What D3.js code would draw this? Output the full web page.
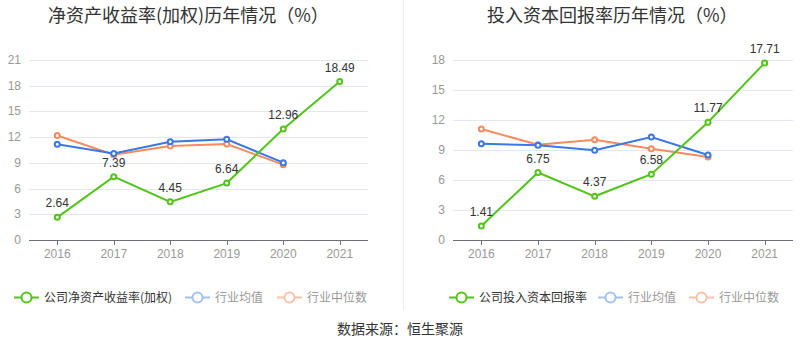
<!DOCTYPE html>
<html><head><meta charset="utf-8">
<script src="https://cdn.jsdelivr.net/npm/d3@7"></script>
<style>body{margin:0;background:#fff;font-family:"Noto Sans CJK SC","Noto Sans",sans-serif;}</style>
</head><body><svg id="c" width="800" height="358"></svg>
<script>
const years = ["2016","2017","2018","2019","2020","2021"];
const roeCompany = [2.64, 7.39, 4.45, 6.64, 12.96, 18.49];
const roeIndustryMean = [11.17, 10.1, 11.47, 11.75, 9.02];
const roeIndustryMedian = [12.2, 9.96, 10.97, 11.2, 8.79];
const roicCompany = [1.41, 6.75, 4.37, 6.58, 11.77, 17.71];
const roicIndustryMean = [9.63, 9.47, 8.97, 10.3, 8.5];
const roicIndustryMedian = [11.1, 9.53, 10.03, 9.13, 8.3];
const roeTicks = [0,3,6,9,12,15,18,21];
const roicTicks = [0,3,6,9,12,15,18];

const svg = d3.select("#c");
const green="#52c41a", blue="#3a78e6", orange="#f98a5e";
const fontCJK='"Noto Sans CJK SC","Noto Sans",sans-serif';

svg.append("line").attr("x1",403.5).attr("x2",403.5).attr("y1",0).attr("y2",310).attr("stroke","#eeeeee");

function panel(opt){
  const g = svg.append("g");
  const x = d3.scaleBand().domain(years).range([opt.x0,opt.x1]);
  const y = d3.scaleLinear().domain([0,opt.max]).range([240,60]);
  g.append("text").attr("x",opt.titleX).attr("y",22).attr("font-size",18).attr("fill","#333").attr("font-family",fontCJK).text(opt.title);
  // grid
  g.selectAll("line.grid").data(opt.ticks.slice(1)).join("line")
    .attr("x1",opt.x0).attr("x2",opt.x1).attr("y1",d=>Math.round(y(d))+0.5).attr("y2",d=>Math.round(y(d))+0.5)
    .attr("stroke","#e3e7f0");
  g.selectAll("text.yt").data(opt.ticks).join("text")
    .attr("x",opt.x0-8).attr("y",d=>y(d)+4).attr("text-anchor","end").attr("font-size",12).attr("fill","#999")
    .attr("font-family","Liberation Sans, Arial, sans-serif").text(d=>d);
  // x axis
  g.append("line").attr("x1",opt.x0).attr("x2",opt.x1).attr("y1",240.5).attr("y2",240.5).attr("stroke","#6e7079");
  g.selectAll("line.xt").data(years).join("line")
    .attr("x1",d=>Math.round(x(d)+x.bandwidth()/2)+0.5).attr("x2",d=>Math.round(x(d)+x.bandwidth()/2)+0.5)
    .attr("y1",240).attr("y2",245).attr("stroke","#6e7079");
  g.selectAll("text.xl").data(years).join("text")
    .attr("x",d=>x(d)+x.bandwidth()/2).attr("y",258).attr("text-anchor","middle").attr("font-size",12).attr("fill","#999")
    .attr("font-family","Liberation Sans, Arial, sans-serif").text(d=>d);
  const cx = i=>x(years[i])+x.bandwidth()/2;
  const line = d3.line().x((d,i)=>cx(i)).y(d=>y(d));
  function series(data,color,labels){
    g.append("path").attr("d",line(data)).attr("fill","none").attr("stroke",color).attr("stroke-width",2);
    g.selectAll(null).data(data).join("circle").attr("cx",(d,i)=>cx(i)).attr("cy",d=>y(d)).attr("r",2.5)
      .attr("fill","#fff").attr("stroke",color).attr("stroke-width",2);
    if(labels){
      g.selectAll(null).data(data).join("text").attr("x",(d,i)=>cx(i)).attr("y",d=>y(d)-10)
        .attr("text-anchor","middle").attr("font-size",12).attr("fill","#333")
        .attr("font-family","Liberation Sans, Arial, sans-serif").text(d=>d.toFixed(2));
    }
  }
  series(opt.median,orange,false);
  series(opt.mean,blue,false);
  series(opt.company,green,true);
  // legend
  const items = [
    {c:green,t:opt.legend,tc:"#333",x:opt.lx[0]},
    {c:"#a4c1f7",t:"行业均值",tc:"#999",x:opt.lx[1]},
    {c:"#fbc0a9",t:"行业中位数",tc:"#999",x:opt.lx[2]}
  ];
  items.forEach(it=>{
    g.append("line").attr("x1",it.x).attr("x2",it.x+25).attr("y1",297.5).attr("y2",297.5).attr("stroke",it.c).attr("stroke-width",2);
    g.append("circle").attr("cx",it.x+12.5).attr("cy",297.5).attr("r",5).attr("fill","#fff").attr("stroke",it.c).attr("stroke-width",2);
    g.append("text").attr("x",it.x+30).attr("y",302).attr("font-size",12).attr("fill",it.tc).attr("font-family",fontCJK).text(it.t);
  });
}

panel({x0:29,x1:368,max:21,ticks:roeTicks,title:"净资产收益率(加权)历年情况（%）",titleX:48,
  company:roeCompany,mean:roeIndustryMean,median:roeIndustryMedian,legend:"公司净资产收益率(加权)",lx:[14,185,277]});
panel({x0:453,x1:793,max:18,ticks:roicTicks,title:"投入资本回报率历年情况（%）",titleX:487,
  company:roicCompany,mean:roicIndustryMean,median:roicIndustryMedian,legend:"公司投入资本回报率",lx:[449,598,689]});

svg.append("text").attr("x",400).attr("y",334).attr("text-anchor","middle").attr("font-size",14).attr("fill","#333")
  .attr("font-family",fontCJK).text("数据来源：恒生聚源");
</script></body></html>
